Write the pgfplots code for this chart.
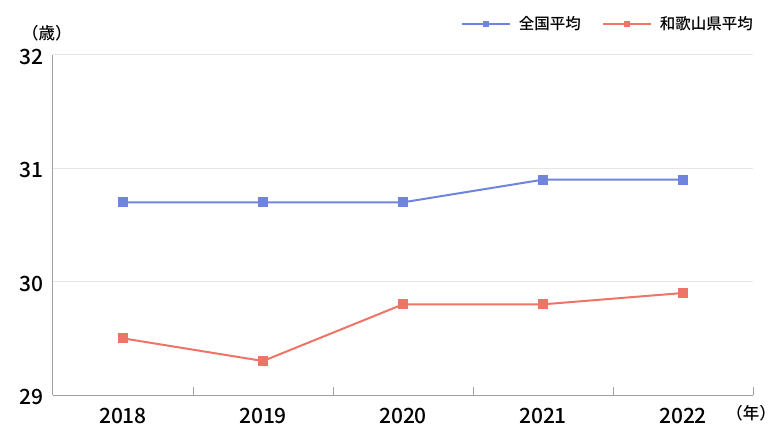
\documentclass[border=0pt]{standalone}
\usepackage{fontspec}
\setmainfont{Noto Sans CJK JP}[UprightFont={* Medium}]
\usepackage{pgfplots}
\pgfplotsset{compat=1.18}
\definecolor{cblue}{HTML}{6E84DE}
\definecolor{cred}{HTML}{EE7465}
\definecolor{axgray}{HTML}{A0A0A0}
\definecolor{gridgray}{HTML}{E6E6E6}
\begin{document}
\begin{tikzpicture}[x=1pt,y=1pt]
\path[use as bounding box] (-53,-46) rectangle (730,395);
\begin{axis}[
  at={(0,0)}, anchor=south west,
  scale only axis, width=700pt, height=340pt,
  xmin=-0.5, xmax=4.5, ymin=29, ymax=32,
  axis x line*=bottom, axis y line*=left,
  axis line style={axgray, line width=1pt, -},
  xtick={0,1,2,3,4},
  xticklabels={2018,2019,2020,2021,2022},
  major x tick style={draw=none},
  minor xtick={0.5,1.5,2.5,3.5,4.5},
  minor tick length=8pt,
  tick align=inside,
  minor x tick style={axgray, line width=1pt},
  ytick={29,30,31,32},
  major y tick style={draw=none},
  ymajorgrids,
  grid style={gridgray, line width=1pt},
  /pgf/number format/assume math mode=true,
  xticklabel style={font=\fontsize{21}{21}\selectfont, yshift=-10pt},
  yticklabel style={font=\fontsize{21}{21}\selectfont, xshift=-6pt, yshift=-2pt},
  legend columns=2,
  legend style={draw=none, fill=none, at={(1.003,1.091)}, anchor=east,
    font=\fontsize{15.5}{15.5}\selectfont, inner sep=0pt,
    /tikz/every even column/.append style={column sep=19pt},
    /tikz/every odd column/.append style={column sep=0pt}},
  legend image code/.code={
    \draw[#1, mark repeat=2, mark phase=2, every mark/.append style={scale=0.6}]
      plot coordinates {(0pt,0pt) (24pt,0pt) (48pt,0pt)};
  },
  legend cell align=left,
  clip=false,
]
\addplot[cblue, line width=2pt, mark=square*, mark size=4pt, mark options={solid}]
  coordinates {(0,30.7) (1,30.7) (2,30.7) (3,30.9) (4,30.9)};
\addlegendentry{\hspace{6pt}全国平均}
\addplot[cred, line width=2pt, mark=square*, mark size=4pt, mark options={solid}]
  coordinates {(0,29.5) (1,29.3) (2,29.8) (3,29.8) (4,29.9)};
\addlegendentry{\hspace{6pt}和歌山県平均}
\end{axis}
\node[font=\fontsize{16.5}{16.5}\selectfont] at (-6,362) {（歳）};
\node[font=\fontsize{16.5}{16.5}\selectfont] at (698,-18) {（年）};
\end{tikzpicture}
\end{document}
